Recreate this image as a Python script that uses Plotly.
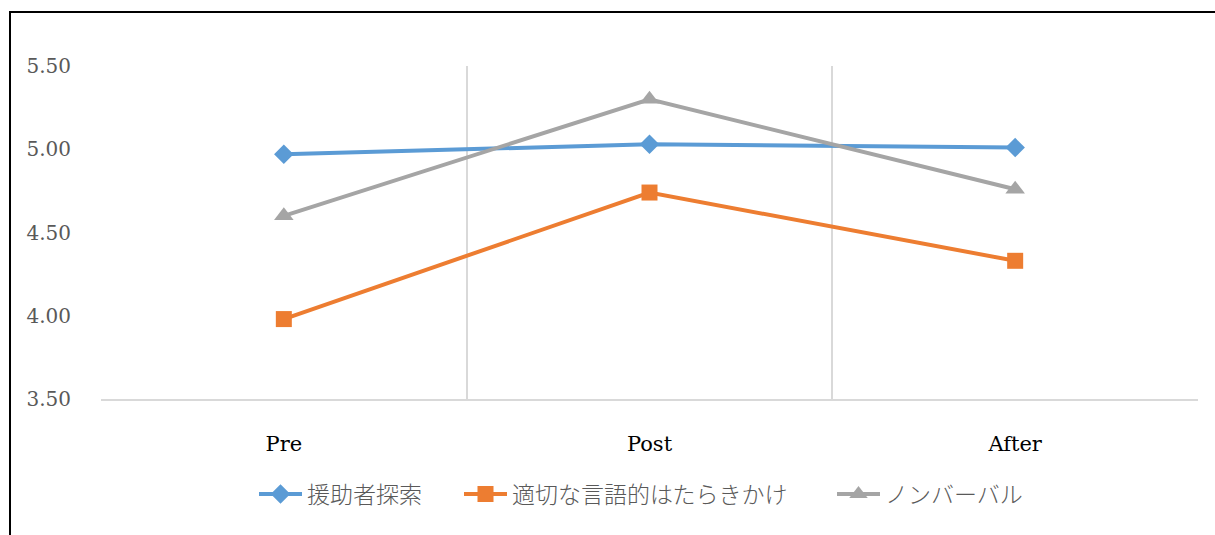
import plotly.graph_objects as go

categories = ["Pre", "Post", "After"]
series_names = ["援助者探索", "適切な言語的はたらきかけ", "ノンバーバル"]
values_helper = [4.97, 5.03, 5.01]
values_verbal = [3.98, 4.74, 4.33]
values_nonverbal = [4.60, 5.30, 4.76]
y_ticks = [3.5, 4.0, 4.5, 5.0, 5.5]

colors = ["#5B9BD5", "#ED7D31", "#A5A5A5"]
symbols = ["diamond", "square", "triangle-up"]
sizes = [15, 16, 17]
legend_ids = ["legend", "legend2", "legend3"]
legend_left_px = [254, 459, 832]

L, R, T, B = 101, 1198, 66, 399
W = R - L
H = B - T

fig = go.Figure()
for name, vals, c, s, sz, lg in zip(series_names, [values_helper, values_verbal, values_nonverbal],
                                     colors, symbols, sizes, legend_ids):
    fig.add_trace(go.Scatter(
        x=categories, y=vals, name=name, mode="lines+markers",
        line=dict(color=c, width=4),
        marker=dict(symbol=s, size=sz, color=c),
        legend=lg,
    ))

legend_font = dict(family="Noto Sans CJK JP", size=23, color="#595959", weight=300)
legend_common = dict(orientation="h", y=(B - 494) / H, yanchor="middle",
                     xanchor="left", font=legend_font, bgcolor="rgba(0,0,0,0)",
                     itemwidth=43)

fig.update_layout(
    width=1215, height=535,
    margin=dict(l=L, r=1215 - R, t=T, b=535 - B),
    plot_bgcolor="white", paper_bgcolor="white",
    showlegend=True,
    legend=dict(x=(legend_left_px[0] - L) / W, **legend_common),
    legend2=dict(x=(legend_left_px[1] - L) / W, **legend_common),
    legend3=dict(x=(legend_left_px[2] - L) / W, **legend_common),
    xaxis=dict(type="category", range=[-0.5, 2.5], tickson="boundaries",
               showgrid=True, gridcolor="#D9D9D9", gridwidth=1.5,
               showline=True, linecolor="#D9D9D9", linewidth=1.5,
               ticks="", ticklabelstandoff=25,
               tickfont=dict(family="DejaVu Serif", size=21, color="#000000"),
               zeroline=False),
    yaxis=dict(range=[3.5, 5.5], tickvals=y_ticks, tickformat=".2f",
               showgrid=False, zeroline=False, showline=False, ticks="",
               ticklabelstandoff=29,
               tickfont=dict(family="DejaVu Serif", size=20, color="#595959")),
    shapes=[dict(type="rect", xref="paper", yref="paper",
                 x0=(10 - L) / W, x1=(1216 - L) / W,
                 y0=-0.6, y1=(B - 12) / H,
                 line=dict(color="black", width=2), fillcolor="rgba(0,0,0,0)", layer="below")],
)

fig.write_html("out.html")
